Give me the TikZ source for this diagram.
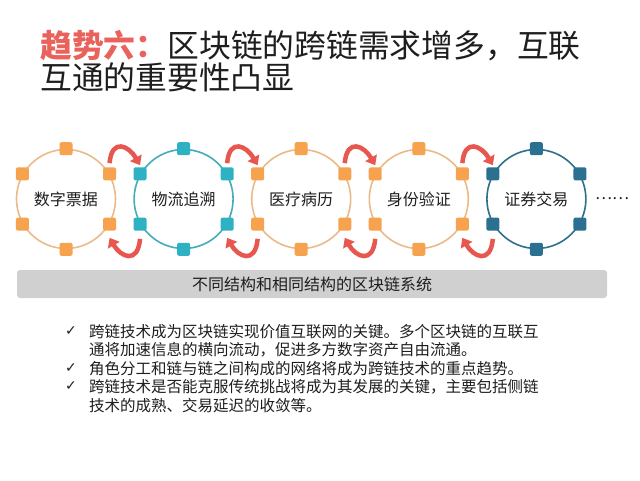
\documentclass[tikz,border=0pt]{standalone}
\usepackage{fontspec}
\setmainfont{Noto Sans CJK SC}
\newfontfamily\tickfont{DejaVu Sans}
\usetikzlibrary{arrows.meta}
\definecolor{titlered}{HTML}{E9625C}
\definecolor{arrowred}{HTML}{E8574F}
\definecolor{orangedot}{HTML}{F6A24E}
\definecolor{orangering}{HTML}{EBBA88}
\definecolor{tealdot}{HTML}{2DB1C3}
\definecolor{tealring}{HTML}{45ADB7}
\definecolor{navydot}{HTML}{2B7090}
\definecolor{navyring}{HTML}{30718A}
\definecolor{barfill}{HTML}{D0D0D0}
\definecolor{ink}{HTML}{1E1E1E}
\tikzset{
  ring/.style={circle,draw=#1,line width=1.6pt,minimum size=99pt,inner sep=0pt,
    font=\fontsize{16}{18}\selectfont,text=ink},
  blob/.style={rectangle,rounded corners=2pt,fill=#1,minimum size=13pt,inner sep=0pt},
  swap/.style={draw=arrowred,line width=4.5pt,-{Triangle[length=8.5pt,width=13pt]}},
  point/.style={anchor=north west,inner sep=0pt,align=left,text=ink,
    font=\fontsize{15.5}{18.5}\selectfont},
  tick/.style={inner sep=0pt,text=ink,font=\tickfont\fontsize{14}{16}\selectfont},
}
\begin{document}
\begin{tikzpicture}[x=1pt,y=1pt]
  \useasboundingbox[fill=white] (0,0) rectangle (640,-480);
  \node[anchor=north west,inner sep=0pt,align=left,text=ink,font=\fontsize{31.8}{32}\selectfont] (title) at (40,-30)
    {{\bfseries\color{titlered}趋势六：}区块链的跨链需求增多，互联\\互通的重要性凸显};
  \foreach \i/\name/\dotc/\ringc in {1/数字票据/orangedot/orangering,2/物流追溯/tealdot/tealring,
      3/医疗病历/orangedot/orangering,4/身份验证/orangedot/orangering,5/证券交易/navydot/navyring}{
    \node[ring=\ringc] (c\i) at ({66+117.6*(\i-1)},-199) {\name};
    \foreach \a in {30,90,...,330}
      \node[blob=\dotc] (sq\i-\a) at (c\i.\a) {};
  }
  \foreach \i [count=\j from 2] in {1,...,4}{
    \draw[swap] ([yshift=4pt]sq\i-30.north) .. controls +(85:26) and +(120:22) .. ([yshift=2pt]sq\j-150.north);
    \draw[swap] ([yshift=-8pt]sq\j-210.south) .. controls +(-95:26) and +(-60:22) .. ([yshift=-7pt]sq\i-330.south);
  }
  \node[text=ink,font=\fontsize{16}{18}\selectfont] (more) at (612,-199) {……};
  \node[fill=barfill,rounded corners=3pt,minimum width=590pt,minimum height=28pt,text=ink,
    font=\fontsize{16}{18}\selectfont] (base) at (312,-284) {不同结构和相同结构的区块链系统};
  \node[point] (pt1) at (89,-324) {跨链技术成为区块链实现价值互联网的关键。多个区块链的互联互\\通将加速信息的横向流动，促进多方数字资产自由流通。};
  \node[point] (pt2) at (89,-361) {角色分工和链与链之间构成的网络将成为跨链技术的重点趋势。};
  \node[point] (pt3) at (89,-379.5) {跨链技术是否能克服传统挑战将成为其发展的关键，主要包括侧链\\技术的成熟、交易延迟的收敛等。};
  \foreach \k in {1,2,3}
    \node[tick] (tk\k) at ([xshift=-18pt,yshift=-7pt]pt\k.north west) {✓};
\end{tikzpicture}
\end{document}
